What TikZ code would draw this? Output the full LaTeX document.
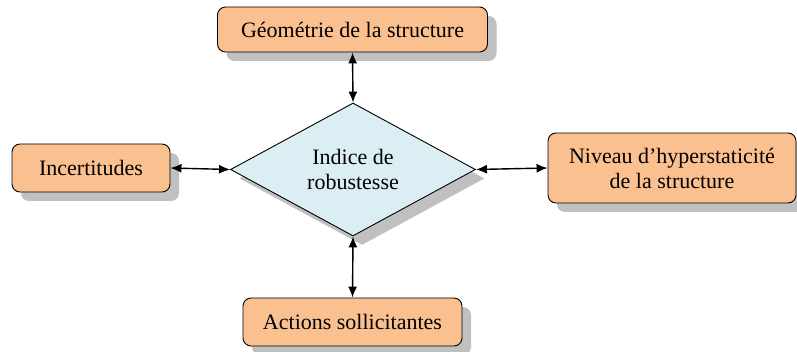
\documentclass[tikz,border=0pt]{standalone}
\usepackage{fontspec}
\setmainfont{Liberation Serif}
\usepackage{xcolor}
\usetikzlibrary{positioning,arrows.meta,shapes.geometric,shadows}
\definecolor{boxorange}{RGB}{250,192,143}
\definecolor{diamblue}{RGB}{219,238,243}
\definecolor{shadowgray}{RGB}{192,192,192}

\begin{document}
\begin{tikzpicture}[
  x=1pt, y=-1pt,
  every node/.style={font=\rmfamily\fontsize{22}{25}\selectfont},
  pshadow/.style={drop shadow={shadow xshift=9pt, shadow yshift=-9pt, fill=shadowgray, opacity=1}},
  box/.style={draw, line width=0.9pt, rounded corners=8pt, fill=boxorange, align=center, inner sep=0pt, pshadow},
  losange/.style={draw, line width=0.9pt, diamond, fill=diamblue, align=center, inner sep=0pt, minimum width=245pt, minimum height=133pt, pshadow},
  link/.style={<->, line width=1.4pt},
  >={Latex[length=11pt,width=9pt]}
]
\useasboundingbox (0,0) rectangle (797,352);

\node[losange] (indice) at (353,169.5) {Indice de\\robustesse};

\node[box, minimum width=270pt, minimum height=45pt] (geometrie) at (352.5,29.5) {G\'eom\'etrie de la structure};
\node[box, minimum width=158pt, minimum height=48pt] (incertitudes) at (91,168) {Incertitudes};
\node[box, minimum width=248pt, minimum height=70pt] (niveau) at (672,168) {Niveau d\textquoteright hyperstaticit\'e\\de la structure};
\node[box, minimum width=219pt, minimum height=48pt] (actions) at (352.5,322) {Actions sollicitantes};

\draw[link] (geometrie.south) -- (indice.north);
\draw[link] (incertitudes.east) -- (indice.west);
\draw[link] (indice.east) -- (niveau.west);
\draw[link] (indice.south) -- (actions.north);
\end{tikzpicture}
\end{document}
